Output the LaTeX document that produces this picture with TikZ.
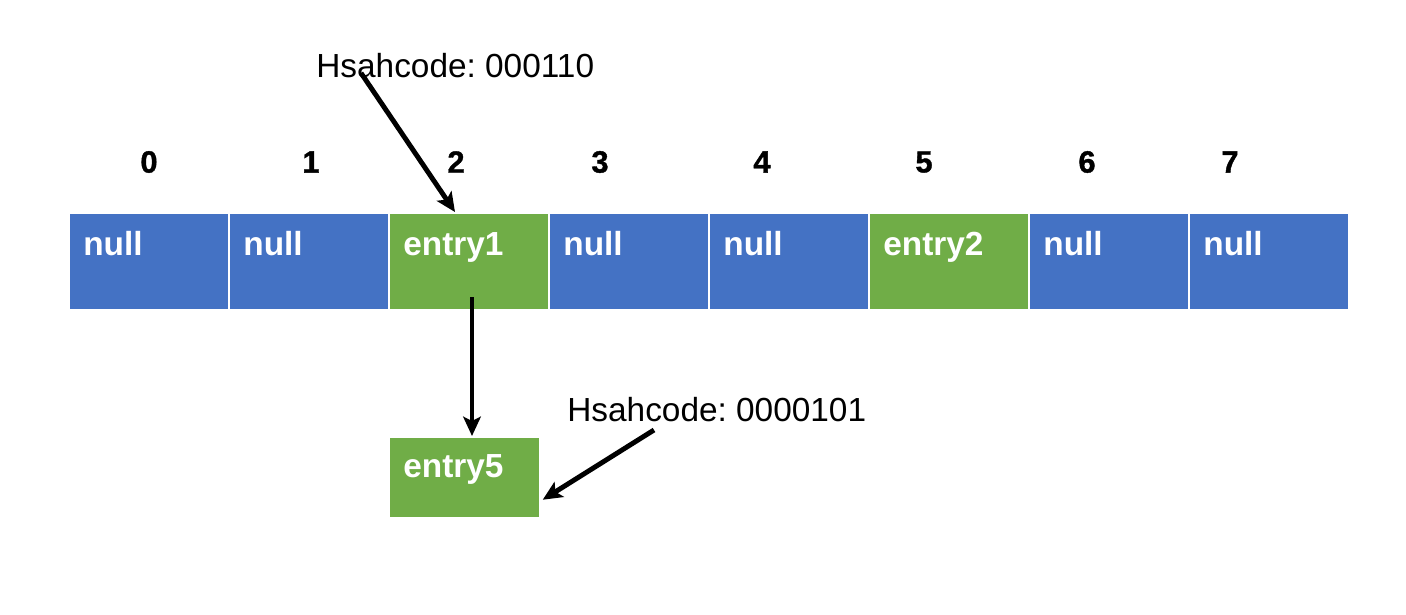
\documentclass[tikz,border=0pt]{standalone}
\usepackage{fontspec}
\setmainfont{Liberation Sans}
\newfontfamily\idxfont[FakeBold=1.2]{Liberation Sans}
\usetikzlibrary{arrows.meta,calc}
\definecolor{cellblue}{RGB}{68,114,196}
\definecolor{cellgreen}{RGB}{112,173,71}
\frenchspacing

\tikzset{
	cell/.style={draw=white, line width=1pt, minimum width=3.2cm, minimum height=1.94cm, anchor=north west, inner sep=0pt},
	celltext/.style={anchor=base west, inner sep=0pt, text=white, font=\fontsize{19}{22}\selectfont\bfseries},
	idx/.style={inner sep=0pt, font=\fontsize{17.5}{20}\idxfont\bfseries},
	hashtext/.style={anchor=base west, inner sep=0pt, font=\fontsize{19}{22}\selectfont},
	ptr/.style={line width=2.8pt, -{Stealth[length=11pt,width=10pt,inset=2.5pt]}}
}

\begin{document}
\begin{tikzpicture}[x=0.02cm, y=-0.02cm]

	\useasboundingbox (0,0) rectangle (1406,615);

	% Draw the bucket array.
	\foreach \i/\txt/\col in {0/null/cellblue,1/null/cellblue,2/entry1/cellgreen,3/null/cellblue,
			4/null/cellblue,5/entry2/cellgreen,6/null/cellblue,7/null/cellblue} {
		\node[cell, fill=\col] (c\i) at (68+160*\i, 212) {};
		\node[celltext] (t\i) at ($(c\i.north west)+(15,43)$) {\txt};
	}

	% Draw index labels.
	\foreach \i/\x in {0/149,1/311,2/456,3/600,4/762,5/924,6/1087,7/1230} {
		\node[idx] (i\i) at (\x, 162) {\i};
	}

	% Chained entry.
	\node[cell, fill=cellgreen, minimum width=3.02cm, minimum height=1.62cm] (e5) at (388, 436) {};
	\node[celltext] (t5b) at ($(e5.north west)+(15,41)$) {entry5};

	% Hash code labels.
	\node[hashtext] (h1) at (316, 78) {Hsahcode: 000110};
	\node[hashtext] (h2) at (567, 421) {Hsahcode: 0000101};

	% Draw pointers.
	\coordinate (h1s) at (361, 73);
	\coordinate (c2in) at (472, 297);
	\coordinate (h2s) at (654, 430);
	\draw[ptr] (h1s) -- (c2.north west -| 455, 0);
	\draw[ptr] (c2in) -- (e5.north west -| 472, 0);
	\draw[ptr] (h2s) -- ($(e5.south east)+(2,-19)$);

\end{tikzpicture}
\end{document}
